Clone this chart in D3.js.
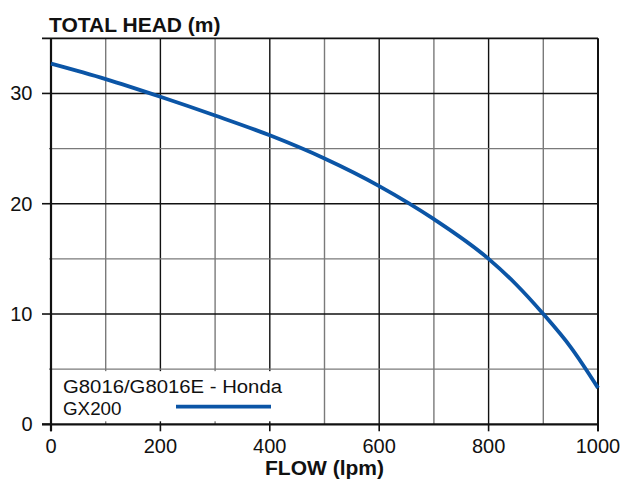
<!DOCTYPE html>
<html><head><meta charset="utf-8">
<script src="https://cdn.jsdelivr.net/npm/d3@7"></script>
<style>
html,body{margin:0;padding:0;background:#fff;}
svg{display:block;font-family:"Liberation Sans",Arial,Helvetica,sans-serif;}
</style></head>
<body>
<svg id="c" width="625" height="480"></svg>
<script>
const flow = [0, 100, 200, 300, 400, 500, 600, 700, 800, 850, 900, 950, 1000];
const head = [32.7, 31.3, 29.7, 28.0, 26.2, 24.1, 21.6, 18.6, 15.0, 12.7, 10.0, 7.0, 3.3];
const xTickValues = [0, 200, 400, 600, 800, 1000];
const xGridValues = [100, 200, 300, 400, 500, 600, 700, 800, 900];
const yTickValues = [0, 10, 20, 30];
const yGridValues = [5, 10, 15, 20, 25, 30];
const seriesName = ["G8016/G8016E - Honda", "GX200"];
const yTitle = "TOTAL HEAD (m)";
const xTitle = "FLOW (lpm)";

const svg = d3.select("#c");
const x = d3.scaleLinear().domain([0, 1000]).range([51, 598]);
const y = d3.scaleLinear().domain([0, 35]).range([424.3, 38.3]);
const blue = "#0b55a6";

// grid
const g = svg.append("g");
g.selectAll("line.vg").data(xGridValues).join("line")
  .attr("x1", d => x(d)).attr("x2", d => x(d))
  .attr("y1", y(35)).attr("y2", y(0))
  .attr("stroke", d => d % 200 === 0 ? "#111" : "#7a7a7a")
  .attr("stroke-width", 1.4);
g.selectAll("line.hg").data(yGridValues).join("line")
  .attr("x1", d => d % 10 === 0 ? x(0) : x(0) - 2).attr("x2", x(1000))
  .attr("y1", d => y(d)).attr("y2", d => y(d))
  .attr("stroke", d => d % 10 === 0 ? "#111" : "#7a7a7a")
  .attr("stroke-width", 1.4);

// legend box (white background covering grid)
svg.append("rect").attr("x", x(0) + 1).attr("y", y(5) + 2)
  .attr("width", 250).attr("height", y(0) - y(5) - 5)
  .attr("fill", "#fff");

// x ticks (major, below axis)
svg.selectAll("line.xt").data(xTickValues).join("line")
  .attr("x1", d => x(d)).attr("x2", d => x(d))
  .attr("y1", y(0)).attr("y2", y(0) + 7)
  .attr("stroke", "#111").attr("stroke-width", 1.6);
// y ticks (major, left)
svg.selectAll("line.yt").data(yTickValues).join("line")
  .attr("x1", x(0) - 9).attr("x2", x(0))
  .attr("y1", d => y(d)).attr("y2", d => y(d))
  .attr("stroke", "#111").attr("stroke-width", 1.6);

// frame
svg.append("line").attr("x1", x(0) - 9).attr("x2", x(1000)).attr("y1", y(35)).attr("y2", y(35))
  .attr("stroke", "#111").attr("stroke-width", 1.8);
svg.append("line").attr("x1", x(1000)).attr("x2", x(1000)).attr("y1", y(35)).attr("y2", y(0) + 7)
  .attr("stroke", "#111").attr("stroke-width", 2);
svg.append("line").attr("x1", x(0)).attr("x2", x(0)).attr("y1", y(35)).attr("y2", y(0) + 7)
  .attr("stroke", "#111").attr("stroke-width", 2.2);
svg.append("line").attr("x1", x(0) - 9).attr("x2", x(1000)).attr("y1", y(0)).attr("y2", y(0))
  .attr("stroke", "#111").attr("stroke-width", 2.2);

// tick labels
svg.selectAll("text.xl").data(xTickValues).join("text")
  .attr("x", d => x(d)).attr("y", 453)
  .attr("text-anchor", "middle").attr("font-size", 20).attr("fill", "#111")
  .text(d => d);
svg.selectAll("text.yl").data(yTickValues).join("text")
  .attr("x", 32.5).attr("y", d => y(d) + 7)
  .attr("text-anchor", "end").attr("font-size", 20).attr("fill", "#111")
  .text(d => d);

// titles
svg.append("text").attr("x", 49).attr("y", 31.5)
  .attr("font-size", 21).attr("font-weight", "bold").attr("fill", "#111").text(yTitle);
svg.append("text").attr("x", (x(0) + x(1000)) / 2).attr("y", 475)
  .attr("text-anchor", "middle")
  .attr("font-size", 21).attr("font-weight", "bold").attr("fill", "#111").text(xTitle);

// curve
const data = flow.map((f, i) => ({f, h: head[i]}));
svg.append("path").datum(data)
  .attr("d", d3.line().x(d => x(d.f)).y(d => y(d.h)).curve(d3.curveMonotoneX))
  .attr("fill", "none").attr("stroke", blue).attr("stroke-width", 3.8);

// legend
svg.append("text").attr("x", 63).attr("y", 393.4)
  .attr("font-size", 18.8).attr("fill", "#111").attr("textLength", 219)
  .attr("lengthAdjust", "spacingAndGlyphs").text(seriesName[0]);
svg.append("text").attr("x", 63).attr("y", 414.6)
  .attr("font-size", 18.8).attr("fill", "#111").text(seriesName[1]);
svg.append("line").attr("x1", 176).attr("x2", 271).attr("y1", 406.7).attr("y2", 406.7)
  .attr("stroke", blue).attr("stroke-width", 3.8);
</script>
</body></html>
